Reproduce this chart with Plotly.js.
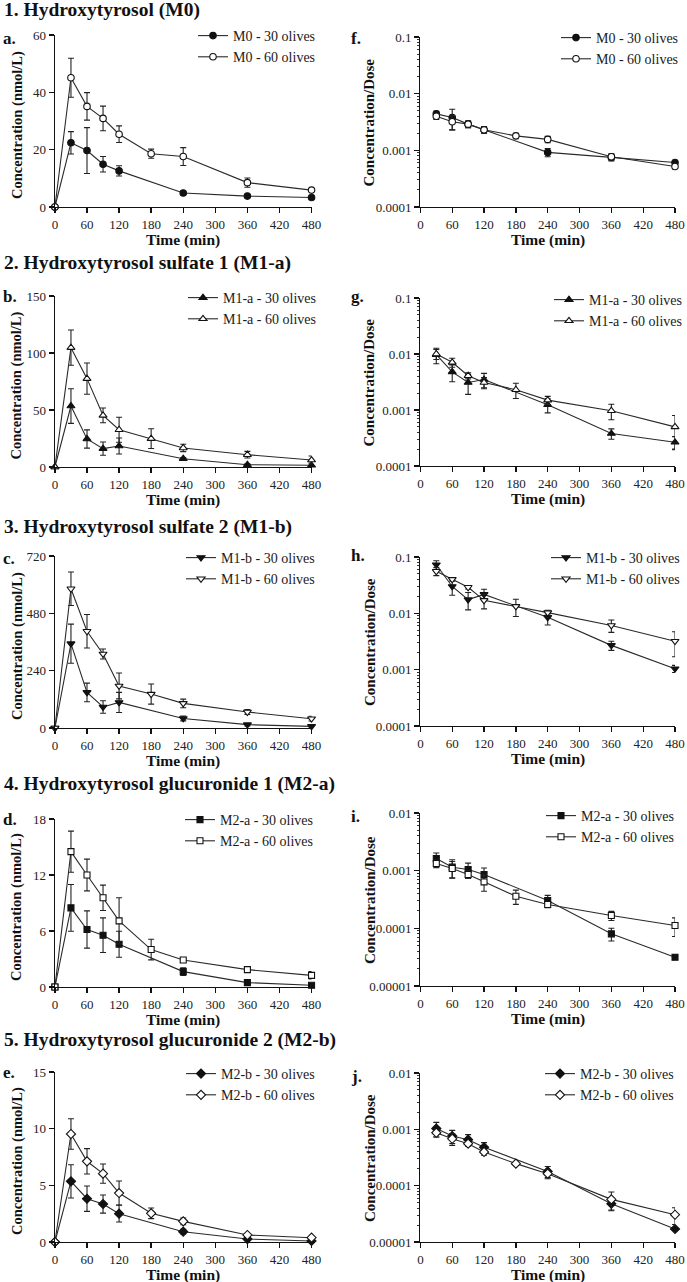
<!DOCTYPE html>
<html>
<head>
<meta charset="utf-8">
<script src="https://cdn.plot.ly/plotly-3.0.1.min.js"></script>
<style>
html,body{margin:0;padding:0;background:#fff;}
#chart{width:687px;height:1282px;}
</style>
</head>
<body>
<div id="chart"></div>
<script>
// ---- time points ----
const timeConc30 = [0, 30, 60, 90, 120, 240, 360, 480];
const timeConc60 = [0, 30, 60, 90, 120, 180, 240, 360, 480];
const timeDose30 = [30, 60, 90, 120, 240, 360, 480];
const timeDose60 = [30, 60, 90, 120, 180, 240, 360, 480];
const xTickVals = [0, 60, 120, 180, 240, 300, 360, 420, 480];

// ---- M0 ----
const m0Conc30 = [0, 22.4, 19.7, 14.9, 12.6, 4.9, 3.8, 3.3];
const m0Conc30Err = [0, 3.9, 8.0, 2.7, 1.8, 0.6, 0.3, 0.3];
const m0Conc60 = [0, 45.1, 35.1, 30.9, 25.4, 18.6, 17.6, 8.5, 5.9];
const m0Conc60Err = [0, 6.8, 4.8, 4.3, 2.9, 1.6, 3.1, 1.6, 0.4];
const m0Dose30 = [0.0044, 0.0038, 0.0029, 0.0023, 0.00092, 0.00075, 0.00061];
const m0Dose30Err = [0.0005, 0.0015, 0.0004, 0.0003, 0.00015, 0.0001, 0.00004];
const m0Dose60 = [0.0040, 0.0032, 0.0029, 0.0023, 0.0018, 0.00156, 0.00077, 0.00052];
const m0Dose60Err = [0.0005, 0.0009, 0.0004, 0.0003, 0.0002, 0.0002, 0.0001, 0.00005];

// ---- M1-a ----
const m1aConc30 = [0, 53.5, 24.6, 16.1, 18.4, 7.3, 2.0, 1.5];
const m1aConc30Err = [0, 15.2, 8, 5.8, 7, 1, 0.8, 2];
const m1aConc60 = [0, 104.7, 77.5, 45.3, 32.7, 24.9, 16.7, 10.8, 6.1];
const m1aConc60Err = [0, 15.5, 13.7, 6.5, 11, 8.7, 3.2, 2.9, 3.5];
const m1aDose30 = [0.0097, 0.0048, 0.0031, 0.0035, 0.00124, 0.00038, 0.000265];
const m1aDose30Err = [0.003, 0.0016, 0.0012, 0.001, 0.00035, 0.00008, 0.00007];
const m1aDose60 = [0.0100, 0.0071, 0.0041, 0.0031, 0.0023, 0.0015, 0.00097, 0.0005];
const m1aDose60Err = [0.002, 0.0013, 0.0005, 0.0007, 0.0007, 0.00025, 0.0003, 0.0003];

// ---- M1-b ----
const m1bConc30 = [0, 353, 149, 88, 107, 40, 14, 7];
const m1bConc30Err = [0, 82, 39, 26, 42, 10, 5, 4];
const m1bConc60 = [0, 583, 405, 310, 176, 142, 103, 67, 39];
const m1bConc60Err = [0, 70, 70, 21, 54, 42, 18, 10, 10];
const m1bDose30 = [0.073, 0.030, 0.0175, 0.0217, 0.0085, 0.0027, 0.00104];
const m1bDose30Err = [0.013, 0.009, 0.006, 0.005, 0.0023, 0.0005, 0.00015];
const m1bDose60 = [0.0557, 0.040, 0.029, 0.017, 0.0133, 0.0103, 0.0061, 0.0032];
const m1bDose60Err = [0.009, 0.003, 0.002, 0.005, 0.0045, 0.001, 0.0015, 0.0015];

// ---- M2-a ----
const m2aConc30 = [0, 8.48, 6.16, 5.55, 4.58, 1.65, 0.47, 0.18];
const m2aConc30Err = [0, 2.5, 2.0, 1.86, 1.4, 0.4, 0.1, 0.1];
const m2aConc60 = [0, 14.5, 12.0, 9.56, 7.09, 4.01, 2.9, 1.86, 1.25];
const m2aConc60Err = [0, 2.2, 1.7, 1.36, 2.47, 1.1, 0.2, 0.25, 0.4];
const m2aDose30 = [0.00162, 0.00115, 0.00105, 0.00086, 0.000303, 0.0000803, 0.0000316];
const m2aDose30Err = [0.0004, 0.0004, 0.0003, 0.00025, 0.00007, 0.00002, 0.000003];
const m2aDose60 = [0.00133, 0.00109, 0.00086, 0.00064, 0.00036, 0.000259, 0.000167, 0.000112];
const m2aDose60Err = [0.0002, 0.00035, 0.00013, 0.0002, 0.0001, 0.00003, 0.00003, 0.00004];

// ---- M2-b ----
const m2bConc30 = [0, 5.35, 3.82, 3.35, 2.5, 0.91, 0.26, 0.09];
const m2bConc30Err = [0, 1.47, 1.12, 0.8, 0.74, 0.2, 0.05, 0.03];
const m2bConc60 = [0, 9.53, 7.12, 6.03, 4.32, 2.53, 1.82, 0.62, 0.38];
const m2bConc60Err = [0, 1.35, 1.12, 0.85, 1.06, 0.47, 0.3, 0.05, 0.05];
const m2bDose30 = [0.00103, 0.00076, 0.000656, 0.00048, 0.000179, 0.0000478, 0.000017];
const m2bDose30Err = [0.0003, 0.0002, 0.00015, 0.0001, 0.00004, 0.000012, 0.000001];
const m2bDose60 = [0.00087, 0.00068, 0.000557, 0.000396, 0.000246, 0.000163, 0.0000571, 0.0000305];
const m2bDose60Err = [0.00014, 0.00016, 0.00005, 0.00005, 0.00001, 0.00003, 0.00002, 0.00001];

// ---- labels ----
const sectionTitles = ['1. Hydroxytyrosol (M0)', '2. Hydroxytyrosol sulfate 1 (M1-a)',
  '3. Hydroxytyrosol sulfate 2 (M1-b)', '4. Hydroxytyrosol glucuronide 1 (M2-a)',
  '5. Hydroxytyrosol glucuronide 2 (M2-b)'];
const metabolites = ['M0', 'M1-a', 'M1-b', 'M2-a', 'M2-b'];
const leftLetters = ['a.', 'b.', 'c.', 'd.', 'e.'];
const rightLetters = ['f.', 'g.', 'h.', 'i.', 'j.'];
const symbols = ['circle', 'triangle-up', 'triangle-down', 'square', 'diamond'];
const concTicks = [[0, 20, 40, 60], [0, 50, 100, 150], [0, 240, 480, 720], [0, 6, 12, 18], [0, 5, 10, 15]];
const doseTickVals = [[0.0001, 0.001, 0.01, 0.1], [0.0001, 0.001, 0.01, 0.1], [0.0001, 0.001, 0.01, 0.1],
  [0.00001, 0.0001, 0.001, 0.01], [0.00001, 0.0001, 0.001, 0.01]];
const doseTickText = [['0.0001', '0.001', '0.01', '0.1'], ['0.0001', '0.001', '0.01', '0.1'], ['0.0001', '0.001', '0.01', '0.1'],
  ['0.00001', '0.0001', '0.001', '0.01'], ['0.00001', '0.0001', '0.001', '0.01']];

const concData = [
  [m0Conc30, m0Conc30Err, m0Conc60, m0Conc60Err],
  [m1aConc30, m1aConc30Err, m1aConc60, m1aConc60Err],
  [m1bConc30, m1bConc30Err, m1bConc60, m1bConc60Err],
  [m2aConc30, m2aConc30Err, m2aConc60, m2aConc60Err],
  [m2bConc30, m2bConc30Err, m2bConc60, m2bConc60Err]
];
const doseData = [
  [m0Dose30, m0Dose30Err, m0Dose60, m0Dose60Err],
  [m1aDose30, m1aDose30Err, m1aDose60, m1aDose60Err],
  [m1bDose30, m1bDose30Err, m1bDose60, m1bDose60Err],
  [m2aDose30, m2aDose30Err, m2aDose60, m2aDose60Err],
  [m2bDose30, m2bDose30Err, m2bDose60, m2bDose60Err]
];

// ---- geometry (pixels) ----
const W = 687, H = 1282;
const leftX = [55, 312], rightX = [421, 676];
const leftY = [[35, 207], [296, 467], [556, 728], [819, 987], [1072, 1242]];
const rightY = [[37, 207], [298, 466], [557, 726], [813, 986], [1073, 1242]];
const leftLegend = [[225, 35], [215, 297], [213, 557], [212, 819], [213, 1073]];
const rightLegend = [[588, 37], [582, 299], [578, 557], [573, 815], [572, 1073]];
const titleY = [10, 263, 527, 784, 1040];
const leftLetterY = [38, 296, 558, 819, 1072];
const rightLetterY = [38, 297, 556, 817, 1076];

const px = x => x / W;
const py = y => 1 - y / H;

const FONT = 'Liberation Serif, Times New Roman, serif';
const INK = '#1a1a1a';

const traces = [];
const layout = {
  width: W, height: H,
  margin: {l: 0, r: 0, t: 0, b: 0},
  paper_bgcolor: '#fff', plot_bgcolor: 'rgba(0,0,0,0)',
  font: {family: FONT, color: INK, size: 13},
  showlegend: true,
  annotations: []
};

function axisBase() {
  return {
    showline: true, linecolor: '#111', linewidth: 1.3,
    ticks: 'outside', ticklen: 5, tickwidth: 1.3, tickcolor: '#111',
    showgrid: false, zeroline: false, fixedrange: true,
    tickfont: {family: FONT, size: 13, color: '#222'}
  };
}

const symSize = {'circle': 6.5, 'triangle-up': 7, 'triangle-down': 7, 'square': 6, 'diamond': 7};

function addSeries(xs, ys, errs, xa, ya, legendId, name, symbol, filled) {
  traces.push({
    type: 'scatter', mode: 'lines+markers',
    x: xs, y: ys, name: name,
    xaxis: xa, yaxis: ya, legend: legendId,
    cliponaxis: false,
    line: {color: '#2a2a2a', width: 1.1},
    marker: {symbol: symbol, size: symSize[symbol],
      color: filled ? '#111' : '#fff', line: {color: '#111', width: 1.1}},
    error_y: {type: 'data', array: errs, visible: true, color: '#222', thickness: 1.1, width: 3}
  });
}

for (let r = 0; r < 5; r++) {
  const kL = r + 1, kR = r + 6;
  const xaL = 'x' + (kL === 1 ? '' : kL), yaL = 'y' + (kL === 1 ? '' : kL);
  const xaR = 'x' + kR, yaR = 'y' + kR;
  const legL = kL === 1 ? 'legend' : 'legend' + kL;
  const legR = 'legend' + kR;
  const [c30, c30e, c60, c60e] = concData[r];
  const [d30, d30e, d60, d60e] = doseData[r];
  const met = metabolites[r];

  addSeries(timeConc30, c30, c30e, xaL, yaL, legL, met + ' - 30 olives', symbols[r], true);
  addSeries(timeConc60, c60, c60e, xaL, yaL, legL, met + ' - 60 olives', symbols[r], false);
  addSeries(timeDose30, d30, d30e, xaR, yaR, legR, met + ' - 30 olives', symbols[r], true);
  addSeries(timeDose60, d60, d60e, xaR, yaR, legR, met + ' - 60 olives', symbols[r], false);

  const xkL = 'xaxis' + (kL === 1 ? '' : kL), ykL = 'yaxis' + (kL === 1 ? '' : kL);
  const xkR = 'xaxis' + kR, ykR = 'yaxis' + kR;

  layout[xkL] = Object.assign(axisBase(), {
    domain: [px(leftX[0]), px(leftX[1])], anchor: yaL,
    range: [0, 480], tickmode: 'array', tickvals: xTickVals
  });
  const ct = concTicks[r];
  layout[ykL] = Object.assign(axisBase(), {
    domain: [py(leftY[r][1]), py(leftY[r][0])], anchor: xaL,
    range: [0, ct[ct.length - 1]], tickmode: 'array', tickvals: ct
  });

  layout[xkR] = Object.assign(axisBase(), {
    domain: [px(rightX[0]), px(rightX[1])], anchor: yaR,
    range: [0, 480], tickmode: 'array', tickvals: xTickVals
  });
  const tv = doseTickVals[r];
  const lo = Math.log10(tv[0]), hi = Math.log10(tv[tv.length - 1]);
  const minorVals = [];
  for (let e = lo; e < hi; e++) {
    for (let m = 2; m <= 9; m++) minorVals.push(m * Math.pow(10, e));
  }
  layout[ykR] = Object.assign(axisBase(), {
    domain: [py(rightY[r][1]), py(rightY[r][0])], anchor: xaR,
    type: 'log', range: [lo, hi], tickmode: 'array', tickvals: tv, ticktext: doseTickText[r],
    minor: {tickmode: 'array', tickvals: minorVals, ticks: 'outside', ticklen: 2.5, tickwidth: 1, tickcolor: '#333'}
  });

  // legends
  const legStyle = {
    bgcolor: 'rgba(0,0,0,0)', borderwidth: 0,
    font: {family: FONT, size: 14, color: INK},
    xanchor: 'left', yanchor: 'top', orientation: 'v',
    itemclick: false, itemdoubleclick: false, tracegroupgap: 0
  };
  layout[legL] = Object.assign({}, legStyle, {x: px(leftLegend[r][0] - 32), y: py(leftLegend[r][1] - 15)});
  layout[legR] = Object.assign({}, legStyle, {x: px(rightLegend[r][0] - 32), y: py(rightLegend[r][1] - 15)});

  // annotations
  layout.annotations.push({
    text: '<b>' + sectionTitles[r] + '</b>', xref: 'paper', yref: 'paper',
    x: px(2), y: py(titleY[r]), xanchor: 'left', yanchor: 'middle', showarrow: false,
    font: {family: FONT, size: 19.5, color: '#111'}
  });
  layout.annotations.push({
    text: '<b>' + leftLetters[r] + '</b>', xref: 'paper', yref: 'paper',
    x: px(1), y: py(leftLetterY[r]), xanchor: 'left', yanchor: 'middle', showarrow: false,
    font: {family: FONT, size: 17, color: '#111'}
  });
  layout.annotations.push({
    text: '<b>' + rightLetters[r] + '</b>', xref: 'paper', yref: 'paper',
    x: px(350), y: py(rightLetterY[r]), xanchor: 'left', yanchor: 'middle', showarrow: false,
    font: {family: FONT, size: 17, color: '#111'}
  });
  layout.annotations.push({
    text: '<b>Concentration (nmol/L)</b>', xref: 'paper', yref: 'paper',
    x: px(17), y: py((leftY[r][0] + leftY[r][1]) / 2 + 4), xanchor: 'center', yanchor: 'middle',
    textangle: -90, showarrow: false, font: {family: FONT, size: 14.5, color: '#111'}
  });
  layout.annotations.push({
    text: '<b>Concentration/Dose</b>', xref: 'paper', yref: 'paper',
    x: px(370), y: py((rightY[r][0] + rightY[r][1]) / 2), xanchor: 'center', yanchor: 'middle',
    textangle: -90, showarrow: false, font: {family: FONT, size: 15, color: '#111'}
  });
  layout.annotations.push({
    text: '<b>Time (min)</b>', xref: 'paper', yref: 'paper',
    x: px((leftX[0] + leftX[1]) / 2), y: py(leftY[r][1] + 33), xanchor: 'center', yanchor: 'middle',
    showarrow: false, font: {family: FONT, size: 15.5, color: '#111'}
  });
  layout.annotations.push({
    text: '<b>Time (min)</b>', xref: 'paper', yref: 'paper',
    x: px((rightX[0] + rightX[1]) / 2), y: py(rightY[r][1] + 33), xanchor: 'center', yanchor: 'middle',
    showarrow: false, font: {family: FONT, size: 15.5, color: '#111'}
  });
}

Plotly.newPlot('chart', traces, layout, {displayModeBar: false, staticPlot: true});
</script>
</body>
</html>
